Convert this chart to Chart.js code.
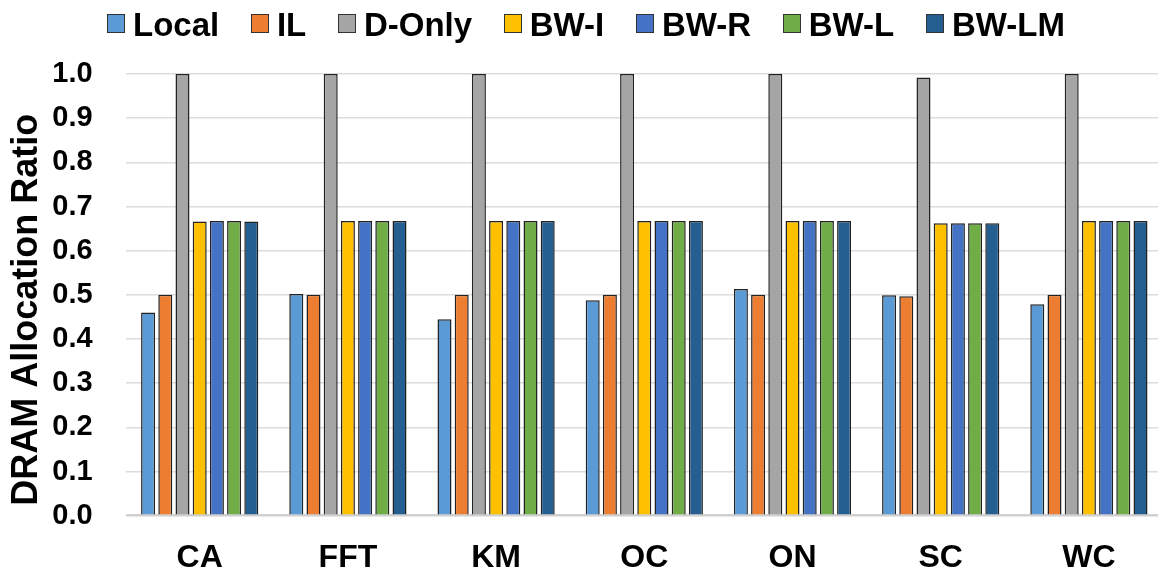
<!DOCTYPE html>
<html>
<head>
<meta charset="utf-8">
<script src="https://cdn.jsdelivr.net/npm/chart.js@4/dist/chart.umd.min.js"></script>
<style>
  html, body { margin: 0; padding: 0; background: #fff; overflow: hidden; width: 1158px; height: 571px; }
  #wrap { position: absolute; left: 0; top: 0; width: 1164px; height: 571px; }
  #legend { position: absolute; left: 107px; top: 6px; height: 38px; display: flex; align-items: center;
            font-family: 'Liberation Sans', Arial, sans-serif; font-weight: bold; font-size: 33px; line-height: 38px; color: #000; white-space: nowrap; }
  .item { display: flex; align-items: center; margin-right: 31.7px; }
  .item:last-child { margin-right: 0; }
  .box { width: 16px; height: 17px; border: 1px solid #333; margin-right: 8px; box-sizing: content-box; position: relative; top: -2px; }
</style>
</head>
<body>
<div id="wrap"><canvas id="c" width="1164" height="571"></canvas></div>
<div id="legend"></div>
<script>
const categories = ['CA', 'FFT', 'KM', 'OC', 'ON', 'SC', 'WC'];
const seriesNames = ['Local', 'IL', 'D-Only', 'BW-I', 'BW-R', 'BW-L', 'BW-LM'];
const localVals = [0.460, 0.502, 0.445, 0.488, 0.513, 0.499, 0.479];
const ilVals    = [0.500, 0.500, 0.500, 0.500, 0.500, 0.497, 0.500];
const dOnlyVals = [1.000, 1.000, 1.000, 1.000, 1.000, 0.992, 1.000];
const bwIVals   = [0.666, 0.667, 0.667, 0.667, 0.667, 0.662, 0.667];
const bwRVals   = [0.667, 0.667, 0.667, 0.667, 0.667, 0.662, 0.667];
const bwLVals   = [0.667, 0.667, 0.667, 0.667, 0.667, 0.662, 0.667];
const bwLMVals  = [0.666, 0.667, 0.667, 0.667, 0.667, 0.662, 0.667];
const colors = ['#5B9BD5', '#ED7D31', '#A5A5A5', '#FFC000', '#4472C4', '#70AD47', '#255E91'];
const yTicks = [0.0, 0.1, 0.2, 0.3, 0.4, 0.5, 0.6, 0.7, 0.8, 0.9, 1.0];
const yTitle = ' DRAM Allocation Ratio';

const allVals = [localVals, ilVals, dOnlyVals, bwIVals, bwRVals, bwLVals, bwLMVals];

// HTML legend
const legendEl = document.getElementById('legend');
seriesNames.forEach((name, i) => {
  const it = document.createElement('div');
  it.className = 'item';
  const b = document.createElement('div');
  b.className = 'box';
  b.style.background = colors[i];
  const t = document.createElement('span');
  t.textContent = name;
  it.appendChild(b); it.appendChild(t);
  legendEl.appendChild(it);
});

Chart.defaults.font.family = "'Liberation Sans', Arial, sans-serif";
Chart.defaults.color = '#000';

new Chart(document.getElementById('c'), {
  type: 'bar',
  data: {
    labels: categories,
    datasets: seriesNames.map((name, i) => ({
      label: name,
      data: allVals[i],
      backgroundColor: colors[i],
      borderColor: '#222',
      borderWidth: 1.5,
      categoryPercentage: 0.8125,
      barPercentage: 0.814
    }))
  },
  options: {
    responsive: false,
    animation: false,
    devicePixelRatio: 1,
    layout: { padding: { top: 74, right: 1, left: 0, bottom: 0 } },
    plugins: { legend: { display: false }, tooltip: { enabled: false } },
    scales: {
      x: {
        grid: { display: false, drawTicks: false },
        border: { display: false },
        ticks: { font: { size: 32, weight: 'bold' }, padding: 23, color: '#000' },
        afterFit: s => { s.height = 55.3; }
      },
      y: {
        min: 0, max: 1,
        afterBuildTicks: s => { s.ticks = yTicks.map(v => ({ value: v })); },
        grid: {
          drawTicks: false,
          color: ctx => ctx.tick && ctx.tick.value === 0 ? '#d0d0d0' : '#dcdcdc',
          lineWidth: ctx => ctx.tick && ctx.tick.value === 0 ? 2.5 : 1.5
        },
        border: { display: false },
        ticks: { font: { size: 29, weight: 'bold' }, padding: 33, color: '#000',
                 callback: v => Number(v).toFixed(1) },
        title: { display: true, text: yTitle, align: 'start', font: { size: 36, weight: 'bold' }, color: '#000',
                 padding: { top: 5, bottom: 0 } },
        afterFit: s => { s.width = 125.6; }
      }
    }
  }
});
</script>
</body>
</html>
